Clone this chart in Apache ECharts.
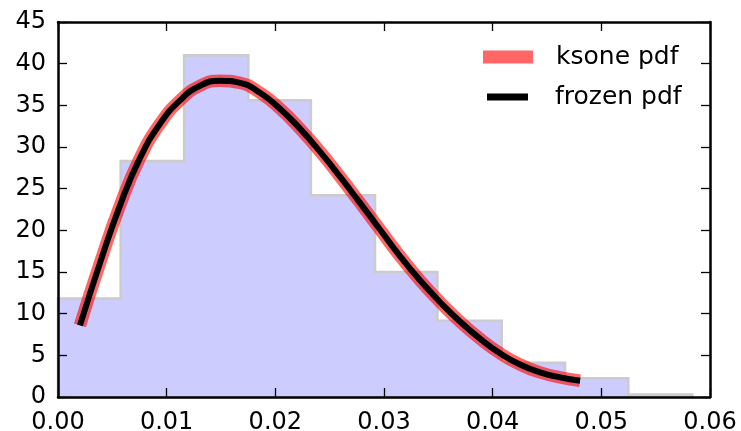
<!DOCTYPE html>
<html>
<head>
<meta charset="utf-8">
<script src="https://cdn.jsdelivr.net/npm/echarts@6/dist/echarts.min.js"></script>
<style>html,body{margin:0;padding:0;background:#fff}#c{width:741px;height:431px}</style>
</head>
<body>
<div id="c"></div>
<script>
// Histogram bin edges and densities
var binEdges = [0.0000, 0.00577, 0.01161, 0.01751, 0.02327, 0.02917, 0.03491, 0.04083, 0.04666, 0.05248, 0.05837];
var binHeights = [11.8, 28.3, 41.0, 35.6, 24.2, 15.0, 9.15, 4.1, 2.25, 0.3];
// pdf curve
var curveX = [0.00202, 0.00387, 0.00571, 0.00755, 0.00939, 0.01123, 0.01307, 0.01491, 0.01675, 0.01859, 0.02043, 0.02227, 0.02411, 0.02595, 0.02779, 0.02963, 0.03147, 0.03331, 0.03515, 0.03699, 0.03883, 0.04067, 0.04251, 0.04436, 0.0462, 0.04804];
var curveY = [8.6, 16.1, 23.0, 28.7, 32.8, 35.6, 37.35, 37.95, 37.7, 36.5, 34.6, 32.2, 29.45, 26.45, 23.3, 20.1, 16.9, 14.0, 11.4, 9.05, 7.0, 5.25, 3.9, 2.95, 2.35, 1.95];
var xTicks = [0.00, 0.01, 0.02, 0.03, 0.04, 0.05, 0.06];
var yTicks = [0, 5, 10, 15, 20, 25, 30, 35, 40, 45];
var seriesNames = ['ksone pdf', 'frozen pdf'];

var curve = curveX.map(function (x, i) { return [x, curveY[i]]; });
var FONT = 'DejaVu Sans';

var chart = echarts.init(document.getElementById('c'), null, {renderer: 'canvas'});
function axisCommon() {
  return {
    type: 'value',
    z: 10,
    axisLine: {show: true, onZero: false, lineStyle: {color: '#000', width: 2.5}},
    axisTick: {show: true, inside: true, length: 9, lineStyle: {color: '#000', width: 1.3}},
    splitLine: {show: false}
  };
}
chart.setOption({
  animation: false,
  backgroundColor: '#fff',
  grid: {left: 58, right: 31, top: 22, bottom: 34, containLabel: false, outerBoundsMode: 'none'},
  xAxis: [
    Object.assign(axisCommon(), {
      position: 'bottom', min: xTicks[0], max: xTicks[xTicks.length - 1], interval: 0.01,
      axisLabel: {show: true, margin: 14, color: '#000', fontFamily: FONT, fontSize: 24,
        formatter: function (v) { return v.toFixed(2); }}
    }),
    Object.assign(axisCommon(), {
      position: 'top', min: xTicks[0], max: xTicks[xTicks.length - 1], interval: 0.01,
      axisLabel: {show: false}
    })
  ],
  yAxis: [
    Object.assign(axisCommon(), {
      position: 'left', min: yTicks[0], max: yTicks[yTicks.length - 1], interval: 5,
      axisLabel: {show: true, margin: 12, color: '#000', fontFamily: FONT, fontSize: 24}
    }),
    Object.assign(axisCommon(), {
      position: 'right', min: yTicks[0], max: yTicks[yTicks.length - 1], interval: 5,
      axisLabel: {show: false}
    })
  ],
  legend: [
    {
      data: [{name: seriesNames[0], icon: 'rect'}],
      left: 483, top: 42, padding: 0,
      itemWidth: 50, itemHeight: 13,
      selectedMode: false,
      textStyle: {fontFamily: FONT, fontSize: 25, color: '#000', lineHeight: 30, padding: [0, 0, 0, 18]}
    },
    {
      data: [{name: seriesNames[1], icon: 'rect'}],
      left: 487, top: 82, padding: 0,
      itemWidth: 41, itemHeight: 7,
      selectedMode: false,
      textStyle: {fontFamily: FONT, fontSize: 25, color: '#000', lineHeight: 30, padding: [0, 0, 0, 22]}
    }
  ],
  series: [
    {
      type: 'custom',
      name: 'hist',
      z: 1,
      data: binHeights.map(function (h, i) { return [(binEdges[i] + binEdges[i + 1]) / 2, h]; }),
      renderItem: function (params, api) {
        if (params.dataIndex !== 0) return null;
        var pts = [api.coord([binEdges[0], 0])];
        for (var i = 0; i < binHeights.length; i++) {
          pts.push(api.coord([binEdges[i], binHeights[i]]));
          pts.push(api.coord([binEdges[i + 1], binHeights[i]]));
        }
        pts.push(api.coord([binEdges[binEdges.length - 1], 0]));
        return {
          type: 'polygon',
          shape: {points: pts},
          style: {fill: '#ccccff', stroke: '#cccccc', lineWidth: 2.6, lineJoin: 'miter'}
        };
      }
    },
    {
      type: 'line',
      name: seriesNames[0],
      z: 3,
      data: curve,
      smooth: 0.5,
      showSymbol: false,
      itemStyle: {color: '#ff6666'},
      lineStyle: {color: 'rgba(255,0,0,0.6)', width: 12.5, cap: 'butt'}
    },
    {
      type: 'line',
      name: seriesNames[1],
      z: 4,
      data: curve,
      smooth: 0.5,
      showSymbol: false,
      itemStyle: {color: '#000'},
      lineStyle: {color: '#000', width: 6, cap: 'butt'}
    }
  ]
});
</script>
</body>
</html>
